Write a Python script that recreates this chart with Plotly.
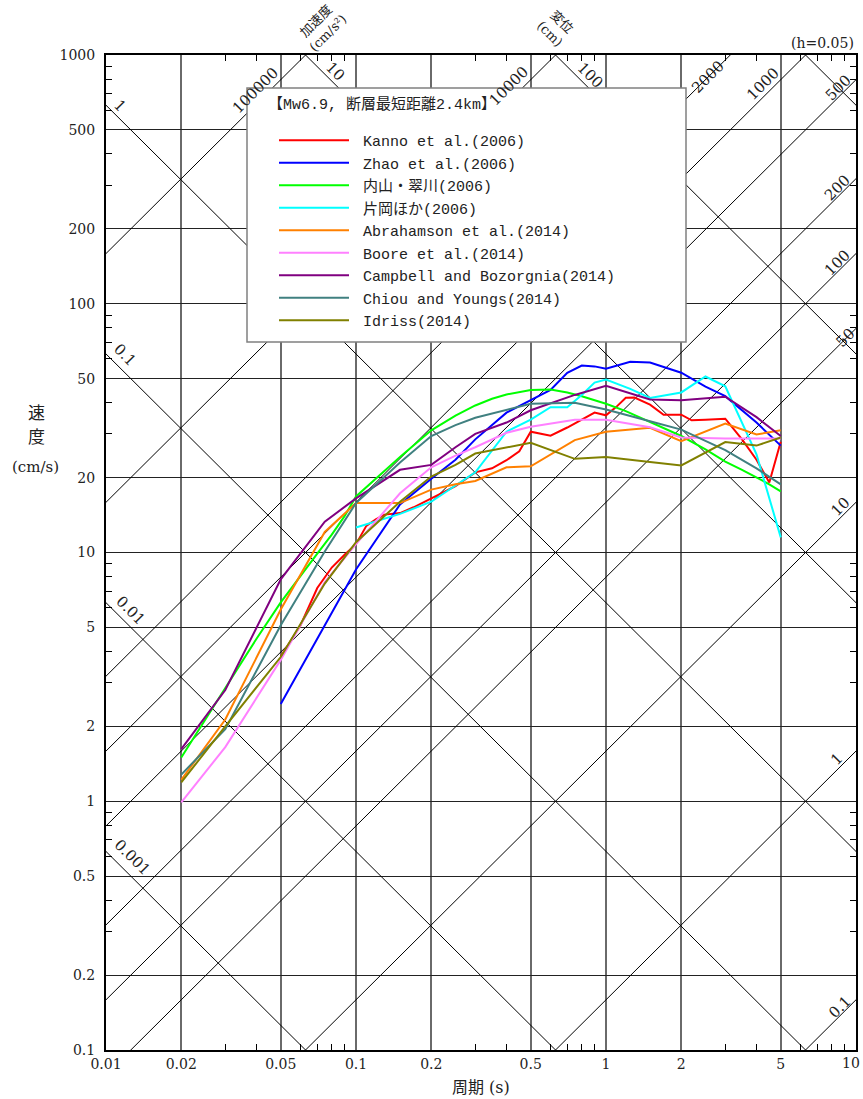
import math
import plotly.graph_objects as go

# ---------------- data ----------------
P_KANNO = [0.05, 0.06, 0.07, 0.08, 0.09, 0.1, 0.11, 0.12, 0.13, 0.15, 0.17, 0.2, 0.22, 0.25, 0.3, 0.35,
           0.4, 0.45, 0.5, 0.6, 0.7, 0.8, 0.9, 1.0, 1.1, 1.2, 1.3, 1.5, 1.7, 2.0, 2.2, 2.5, 3.0, 3.5, 4.0, 4.5, 5.0]
V_KANNO = [3.82, 5.1, 7.2, 8.7, 9.8, 10.8, 12.8, 13.6, 14.2, 14.4, 15.2, 16.5, 17.3, 18.5, 21.0, 21.8,
           23.5, 25.5, 30.6, 29.5, 31.8, 34.2, 36.5, 35.6, 38.5, 41.9, 42.0, 39.3, 35.8, 35.8, 34.0, 34.2, 34.5, 28.5, 23.6, 19.1, 27.9]

P_ZHAO = [0.05, 0.1, 0.15, 0.2, 0.25, 0.3, 0.4, 0.5, 0.6, 0.7, 0.8, 0.9, 1.0, 1.25, 1.5, 2.0, 2.5, 3.0, 4.0, 5.0]
V_ZHAO = [2.46, 8.55, 15.6, 19.8, 23.6, 28.5, 36.5, 41.0, 45.0, 52.8, 56.4, 56.0, 54.8, 58.5, 58.0, 52.8, 46.4, 42.5, 33.3, 26.9]

P_UCHIYAMA = [0.02, 0.03, 0.04, 0.05, 0.06, 0.07, 0.08, 0.09, 0.1, 0.12, 0.15, 0.2, 0.25, 0.3, 0.35, 0.4,
              0.45, 0.5, 0.6, 0.7, 0.8, 0.9, 1.0, 1.2, 1.5, 1.7, 2.0, 2.5, 3.0, 3.5, 4.0, 4.5, 5.0]
V_UCHIYAMA = [1.5, 2.85, 4.5, 6.3, 8.1, 9.9, 11.8, 14.0, 16.8, 19.8, 24.2, 31.0, 35.5, 39.0, 41.5, 43.2,
              44.3, 45.0, 45.2, 44.0, 42.5, 41.0, 39.6, 37.0, 33.5, 31.5, 29.4, 26.0, 23.2, 21.5, 20.0, 18.8, 17.6]

P_KATAYAMA = [0.1, 0.15, 0.2, 0.3, 0.4, 0.5, 0.6, 0.7, 0.8, 0.9, 1.0, 1.25, 1.5, 2.0, 2.5, 3.0, 4.0, 5.0]
V_KATAYAMA = [12.6, 14.3, 16.0, 21.0, 30.6, 34.2, 38.4, 38.4, 43.0, 48.2, 49.6, 45.5, 41.8, 44.0, 51.0, 46.6, 24.8, 11.5]

P_NGA = [0.02, 0.03, 0.05, 0.075, 0.1, 0.15, 0.2, 0.25, 0.3, 0.4, 0.5, 0.75, 1.0, 1.5, 2.0, 3.0, 4.0, 5.0]
V_ASK14 = [1.22, 2.13, 5.9, 12.1, 15.8, 15.8, 17.9, 18.8, 19.4, 22.0, 22.2, 28.3, 30.6, 31.7, 28.0, 33.0, 29.8, 31.0]
V_BSSA14 = [0.99, 1.65, 3.7, 7.6, 10.8, 17.3, 22.0, 24.5, 26.5, 30.3, 32.0, 34.2, 34.2, 31.9, 29.0, 28.7, 28.7, 28.7]
V_CB14 = [1.62, 2.8, 7.8, 13.3, 16.5, 21.5, 22.5, 26.5, 30.0, 33.3, 37.3, 43.0, 46.8, 41.2, 40.9, 42.3, 35.0, 29.4]
V_CY14 = [1.28, 1.95, 5.1, 10.1, 15.8, 23.0, 29.4, 32.5, 34.8, 37.5, 39.6, 40.0, 37.6, 33.7, 31.2, 25.8, 21.8, 18.8]
V_I14 = [1.19, 2.0, 3.8, 7.5, 11.0, 16.0, 20.2, 22.5, 25.0, 26.5, 27.6, 23.8, 24.2, 23.1, 22.4, 27.8, 26.9, 29.0]

LEGEND_TITLE = "【Mw6.9, 断層最短距離2.4km】"
SERIES_NAMES = ["Kanno et al.(2006)", "Zhao et al.(2006)", "内山・翠川(2006)", "片岡ほか(2006)",
                "Abrahamson et al.(2014)", "Boore et al.(2014)", "Campbell and Bozorgnia(2014)",
                "Chiou and Youngs(2014)", "Idriss(2014)"]
SERIES_COLORS = ["#ff0000", "#0000ff", "#00ff00", "#00ffff", "#ff8000", "#ff80ff", "#800080", "#408080", "#808000"]

# tripartite guide lines
DISP_LINES = [0.001, 0.01, 0.1, 1, 10, 100, 1000]            # cm
ACC_LINES = [0.1, 1, 10, 50, 100, 200, 500, 1000, 2000, 10000, 100000]  # cm/s2

X_TICKS = [0.01, 0.02, 0.05, 0.1, 0.2, 0.5, 1, 2, 5, 10]
X_TICKTEXT = ["0.01", "0.02", "0.05", "0.1", "0.2", "0.5", "1", "2", "5", ""]
X_LAST_LABEL = "10"
Y_TICKS = [0.1, 0.2, 0.5, 1, 2, 5, 10, 20, 50, 100, 200, 500, 1000]
Y_TICKTEXT = ["0.1", "0.2", "0.5", "1", "2", "5", "10", "20", "50", "100", "200", "500", "1000"]

# ---------------- figure ----------------
W, H = 863, 1099
ML, MR, MT, MB = 106, 7, 55, 49
PW, PH = W - ML - MR, H - MT - MB


def px(x):
    return (x - ML) / PW


def py(y):
    return 1 - (y - MT) / PH


SERIF = "DejaVu Serif, Noto Sans CJK JP"
LEGFONT = "Liberation Mono, Noto Sans CJK JP"
fig = go.Figure()

T_END = [0.005, 20]
for D in DISP_LINES:
    fig.add_trace(go.Scatter(x=T_END, y=[2 * math.pi * D / t for t in T_END], mode="lines",
                             line=dict(color="black", width=1), showlegend=False, hoverinfo="skip"))
for A in ACC_LINES:
    fig.add_trace(go.Scatter(x=T_END, y=[A * t / (2 * math.pi) for t in T_END], mode="lines",
                             line=dict(color="black", width=1), showlegend=False, hoverinfo="skip"))

series = [(P_KANNO, V_KANNO), (P_ZHAO, V_ZHAO), (P_UCHIYAMA, V_UCHIYAMA), (P_KATAYAMA, V_KATAYAMA),
          (P_NGA, V_ASK14), (P_NGA, V_BSSA14), (P_NGA, V_CB14), (P_NGA, V_CY14), (P_NGA, V_I14)]
for (p, v), name, col in zip(series, SERIES_NAMES, SERIES_COLORS):
    fig.add_trace(go.Scatter(x=p, y=v, mode="lines", name="\u00a0" + name, line=dict(color=col, width=2)))


def minor_vals(lo_exp, hi_exp, mults):
    out = []
    for e in range(lo_exp, hi_exp):
        for m in mults:
            out.append(m * 10 ** e)
    return out


x_minor = minor_vals(-2, 1, [3, 4, 6, 7, 8, 9])
y_minor = minor_vals(-1, 3, [3, 4, 6, 7, 8, 9])

axis_common = dict(type="log", showline=True, linecolor="black", linewidth=2, mirror="allticks",
                   ticks="", zeroline=False, ticklabeloverflow="allow",
                   tickfont=dict(family=SERIF, size=14, color="#222"))
fig.update_xaxes(range=[-2, 1], tickvals=X_TICKS, ticktext=X_TICKTEXT, showgrid=True,
                 gridcolor="#6a6a6a", gridwidth=1.5, ticklabelstandoff=0,
                 minor=dict(tickvals=x_minor, ticks="inside", ticklen=6, tickcolor="black", tickwidth=1, showgrid=False),
                 **axis_common)
fig.update_yaxes(range=[-1, 3], tickvals=Y_TICKS, ticktext=Y_TICKTEXT, showgrid=True,
                 gridcolor="#222", gridwidth=1, ticklabelstandoff=6,
                 minor=dict(tickvals=y_minor, ticks="inside", ticklen=6, tickcolor="black", tickwidth=1, showgrid=False),
                 **axis_common)

# legend box
fig.add_shape(type="rect", xref="paper", yref="paper", x0=px(247), x1=px(686), y0=py(342), y1=py(88),
              fillcolor="white", line=dict(color="#808080", width=1.5), layer="above")

ann = []
# acceleration labels (up-right)
ACC_LABELS = [("100000", 255, 91), ("10000", 509, 86), ("2000", 708, 77), ("1000", 763, 84), ("500", 838, 88),
              ("200", 837, 188), ("100", 837, 263), ("50", 845, 338), ("10", 840, 507), ("1", 837, 759),
              ("0.1", 840, 1007)]
for t, x, y in ACC_LABELS:
    ann.append(dict(text=t, x=px(x), y=py(y), textangle=-45))
DISP_LABELS = [("1", 120, 106), ("0.1", 125, 355), ("0.01", 130, 610), ("0.001", 132, 857),
               ("10", 335, 71), ("100", 590, 75)]
for t, x, y in DISP_LABELS:
    ann.append(dict(text=t, x=px(x), y=py(y), textangle=45))
for a in ann:
    a.update(xref="paper", yref="paper", showarrow=False, xanchor="center", yanchor="middle",
             font=dict(family=SERIF, size=15, color="#222"))

extra = [
    dict(text="加速度<br>(cm/s²)", x=px(322), y=py(27), textangle=-45, font=dict(family=SERIF, size=13, color="#222")),
    dict(text="変位<br>(cm)", x=px(556), y=py(28), textangle=45, font=dict(family=SERIF, size=13, color="#222")),
    dict(text="(h=0.05)", x=px(856), y=py(43), xanchor="right", font=dict(family=SERIF, size=14, color="#222")),
    dict(text="速", x=px(36), y=py(413), font=dict(family=SERIF, size=17, color="#222")),
    dict(text="度", x=px(36), y=py(437), font=dict(family=SERIF, size=17, color="#222")),
    dict(text="(cm/s)", x=px(35), y=py(467), font=dict(family=SERIF, size=15, color="#222")),
    dict(text="周期 (s)", x=px(481), y=py(1087), font=dict(family=SERIF, size=16, color="#222")),
    dict(text=LEGEND_TITLE, x=px(266), y=py(105), xanchor="left", font=dict(family=LEGFONT, size=15, color="#222")),
    dict(text=X_LAST_LABEL, x=px(862), y=py(1063), xanchor="right", font=dict(family=SERIF, size=14, color="#222")),
]
for a in extra:
    a.setdefault("xanchor", "center")
    a.update(xref="paper", yref="paper", showarrow=False, yanchor="middle")
ann += extra

fig.update_layout(
    width=W, height=H, margin=dict(l=ML, r=MR, t=MT, b=MB, autoexpand=False),
    paper_bgcolor="white", plot_bgcolor="white",
    annotations=ann,
    legend=dict(x=px(262), y=py(124), xanchor="left", yanchor="top", bgcolor="rgba(0,0,0,0)", borderwidth=0,
                font=dict(family=LEGFONT, size=15, color="#222"),
                itemwidth=70, indentation=12, tracegroupgap=0),
    showlegend=True,
)

fig.write_html("out.html", config={"displayModeBar": False},
               post_script="document.body.style.margin='0px';document.body.style.overflow='hidden';")
